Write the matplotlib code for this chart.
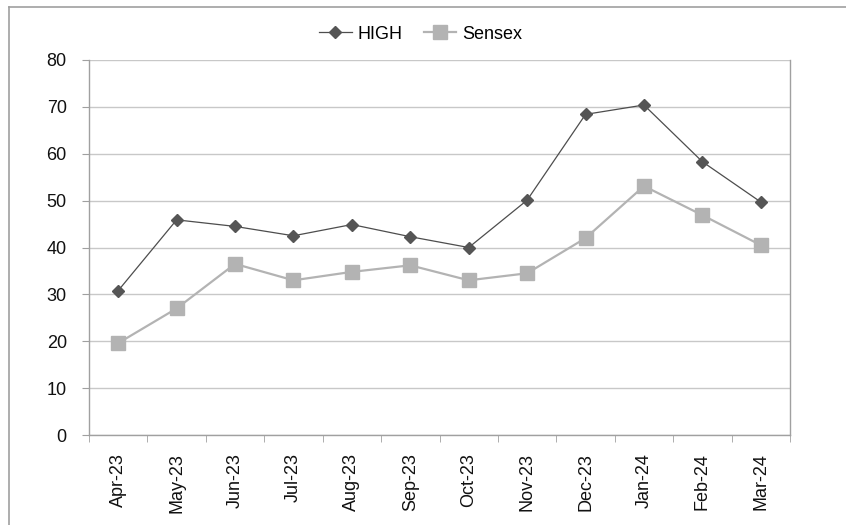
import matplotlib
matplotlib.use("Agg")
import matplotlib.pyplot as plt
from matplotlib.lines import Line2D

months = ["Apr-23", "May-23", "Jun-23", "Jul-23", "Aug-23", "Sep-23",
          "Oct-23", "Nov-23", "Dec-23", "Jan-24", "Feb-24", "Mar-24"]
high = [30.8, 45.9, 44.5, 42.5, 44.9, 42.3, 40.0, 50.1, 68.4, 70.4, 58.3, 49.7]
sensex = [19.6, 27.0, 36.5, 33.0, 34.8, 36.2, 33.0, 34.5, 42.0, 53.1, 46.9, 40.5]
yticks = [0, 10, 20, 30, 40, 50, 60, 70, 80]

plt.rcParams['font.family'] = ['Liberation Sans', 'DejaVu Sans']
FS = 13

fig = plt.figure(figsize=(8.46, 5.25), dpi=100)
ax = fig.add_axes([89/846, 1 - 435/525, (790 - 89)/846, (435 - 60)/525])

x = list(range(len(months)))
ax.plot(x, high, color="#4d4d4d", lw=0.9, marker="D", ms=6.5,
        mfc="#555555", mec="#555555", label="HIGH", zorder=3)
ax.plot(x, sensex, color="#b3b3b3", lw=1.6, marker="s", ms=10,
        mfc="#b3b3b3", mec="#b3b3b3", label="Sensex", zorder=2)

ax.set_xlim(-0.5, len(months) - 0.5)
ax.set_ylim(0, 80)
ax.set_yticks(yticks)
ax.set_yticklabels([str(v) for v in yticks], fontsize=FS, color="#111111")
ax.yaxis.grid(True, color="#c8c8c8", lw=1)
ax.set_axisbelow(True)

ax.set_xticks([i for i in x])
ax.set_xticklabels(months, rotation=90, fontsize=FS, color="#111111")
ax.tick_params(axis='x', which='major', length=0, pad=13)
ax.set_xticks([i - 0.5 for i in range(len(months) + 1)], minor=True)
ax.tick_params(axis='x', which='minor', length=5, color="#a0a0a0", direction='out')
ax.tick_params(axis='y', length=5, color="#a0a0a0", direction='out', pad=11)

ax.spines["top"].set_visible(False)
for s in ["left", "right", "bottom"]:
    ax.spines[s].set_color("#a0a0a0")
    ax.spines[s].set_linewidth(1)

fig.legend(loc="upper center", bbox_to_anchor=(0.497, 0.982), ncol=2,
           frameon=False, fontsize=FS, handlelength=1.8,
           columnspacing=1.2, handletextpad=0.3)

# Partial outer border (top and left only)
fig.add_artist(Line2D([9/846, 1], [1 - 6.5/525, 1 - 6.5/525],
                      transform=fig.transFigure, color="#a0a0a0", lw=1.2))
fig.add_artist(Line2D([9/846, 9/846], [0, 1 - 6.5/525],
                      transform=fig.transFigure, color="#a0a0a0", lw=1.2))

fig.savefig("out.png", dpi=100)
